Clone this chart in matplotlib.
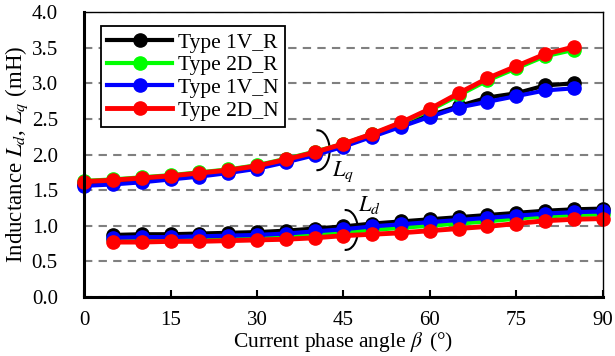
import numpy as np
import matplotlib.pyplot as plt
from matplotlib.patches import Arc

plt.rcParams['font.family'] = 'Liberation Serif'
plt.rcParams['mathtext.fontset'] = 'stix'

# current phase angle (deg)
beta_q = np.arange(0, 90, 5)      # 0..85
beta_d = np.arange(5, 95, 5)      # 5..90

# q-axis inductance (mH)
lq_1v_r = [1.58, 1.60, 1.63, 1.67, 1.71, 1.76, 1.82, 1.91, 2.01, 2.13, 2.27, 2.41, 2.55, 2.68, 2.80, 2.86, 2.97, 3.00]
lq_2d_r = [1.63, 1.65, 1.68, 1.71, 1.75, 1.79, 1.85, 1.94, 2.04, 2.15, 2.29, 2.44, 2.62, 2.83, 3.04, 3.21, 3.38, 3.47]
lq_1v_n = [1.56, 1.58, 1.61, 1.65, 1.69, 1.74, 1.80, 1.89, 1.99, 2.11, 2.25, 2.39, 2.53, 2.66, 2.74, 2.82, 2.90, 2.93]
lq_2d_n = [1.62, 1.64, 1.67, 1.70, 1.74, 1.78, 1.84, 1.93, 2.03, 2.15, 2.29, 2.45, 2.64, 2.86, 3.07, 3.24, 3.41, 3.51]

# d-axis inductance (mH)
ld_1v_r = [0.87, 0.88, 0.88, 0.89, 0.90, 0.91, 0.93, 0.96, 0.99, 1.03, 1.06, 1.09, 1.12, 1.15, 1.18, 1.21, 1.23, 1.24]
ld_2d_r = [0.82, 0.82, 0.83, 0.83, 0.84, 0.85, 0.86, 0.88, 0.91, 0.94, 0.97, 1.00, 1.03, 1.06, 1.10, 1.13, 1.15, 1.16]
ld_1v_n = [0.83, 0.84, 0.84, 0.85, 0.86, 0.87, 0.89, 0.92, 0.95, 0.99, 1.02, 1.05, 1.08, 1.11, 1.14, 1.17, 1.19, 1.20]
ld_2d_n = [0.77, 0.77, 0.78, 0.78, 0.79, 0.80, 0.81, 0.83, 0.86, 0.88, 0.90, 0.93, 0.96, 0.99, 1.03, 1.07, 1.09, 1.10]

labels = ['Type 1V_R', 'Type 2D_R', 'Type 1V_N', 'Type 2D_N']
colors = ['black', '#00ff00', 'blue', 'red']
lq_all = [lq_1v_r, lq_2d_r, lq_1v_n, lq_2d_n]
ld_all = [ld_1v_r, ld_2d_r, ld_1v_n, ld_2d_n]

fig = plt.figure(figsize=(6.15, 3.56), dpi=100)
ax = fig.add_axes([0.137, 0.166, 0.843, 0.800])

for lab, c, lq, ld in zip(labels, colors, lq_all, ld_all):
    lw = 3.5 if c == 'red' else 3
    ax.plot(beta_q, lq, '-o', color=c, lw=lw, ms=9.5, label=lab, clip_on=False)
    ax.plot(beta_d, ld, '-o', color=c, lw=lw, ms=9.5, clip_on=False)

# brackets marking the Lq and Ld groups
ax.add_patch(Arc((40.5, 2.06), 4.2, 0.56, theta1=-125, theta2=125, color='black', lw=1.5))
ax.add_patch(Arc((45.4, 0.94), 4.2, 0.56, theta1=-125, theta2=125, color='black', lw=1.5))
ax.text(43.0, 1.76, r'$L_q$', fontsize=16, ha='left', va='center')
ax.text(47.5, 1.29, r'$L_d$', fontsize=16, ha='left', va='center')

ax.set_xlim(0, 90)
ax.set_ylim(0, 4.0)
ax.set_xticks(np.arange(0, 91, 15))
ax.set_yticks(np.arange(0, 4.01, 0.5))
ax.set_yticklabels([f'{v:.1f}' for v in np.arange(0, 4.01, 0.5)])
ax.yaxis.grid(True, color='#808080', ls=(0, (4, 3)), lw=1.5)
ax.set_axisbelow(True)

ax.tick_params(axis='x', direction='in', length=5, width=1.5, pad=10, labelsize=15)
ax.tick_params(axis='y', length=0, pad=19, labelsize=15)
for s in ['left', 'bottom']:
    ax.spines[s].set_linewidth(2.2)
for s in ['top', 'right']:
    ax.spines[s].set_linewidth(1.0)

ax.set_xlabel(r'Current phase angle $\beta\,$ (°)', fontsize=15.5, labelpad=0.5)
ax.set_ylabel(r'Inductance $L_d$, $L_q$ (mH)', fontsize=16.5, labelpad=1)

leg = ax.legend(loc='upper left', bbox_to_anchor=(0.032, 0.951), fontsize=15.5,
                frameon=True, fancybox=False, handlelength=3.0, borderpad=0.3,
                labelspacing=0.12, handletextpad=0.3, borderaxespad=0)
leg.get_frame().set_edgecolor('black')
leg.get_frame().set_linewidth(1.3)
leg.get_frame().set_alpha(1)

fig.savefig('out.png', dpi=100)
